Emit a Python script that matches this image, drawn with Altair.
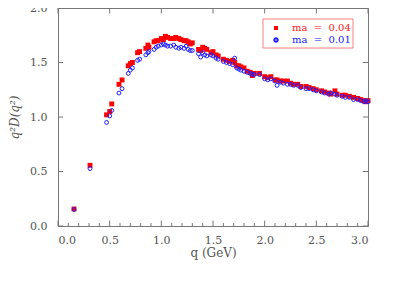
import altair as alt
import pandas as pd

q_vals = [0.155, 0.31, 0.47, 0.50, 0.52, 0.59, 0.62, 0.68, 0.70, 0.72, 0.77, 0.79,
          0.85, 0.87, 0.88, 0.93, 0.95, 0.97, 1.00, 1.02, 1.04, 1.06, 1.09, 1.12,
          1.14, 1.17, 1.19, 1.22, 1.24, 1.26, 1.28, 1.30, 1.36, 1.38, 1.40, 1.42,
          1.44, 1.48, 1.50, 1.53, 1.55, 1.60, 1.63, 1.66, 1.69, 1.71, 1.73, 1.75,
          1.77, 1.80, 1.83, 1.86, 1.88, 1.90, 1.95, 2.00, 2.03, 2.06, 2.10, 2.12,
          2.15, 2.18, 2.22, 2.25, 2.28, 2.32, 2.35, 2.40, 2.43, 2.47, 2.50, 2.55,
          2.58, 2.62, 2.64, 2.68, 2.70, 2.75, 2.78, 2.82, 2.86, 2.90, 2.93, 2.96,
          2.98, 3.00]
red_vals = [0.156, 0.557, 1.02, 1.05, 1.12, 1.30, 1.34, 1.47, 1.49, 1.50, 1.59, 1.60,
            1.63, 1.66, 1.64, 1.69, 1.70, 1.70, 1.72, 1.71, 1.74, 1.73, 1.72, 1.72,
            1.73, 1.72, 1.71, 1.70, 1.70, 1.69, 1.67, 1.68, 1.62, 1.61, 1.64, 1.63,
            1.62, 1.59, 1.60, 1.57, 1.56, 1.53, 1.52, 1.51, 1.52, 1.50, 1.47, 1.47,
            1.46, 1.45, 1.42, 1.41, 1.38, 1.40, 1.40, 1.37, 1.36, 1.37, 1.34, 1.34,
            1.33, 1.33, 1.33, 1.31, 1.30, 1.30, 1.28, 1.28, 1.27, 1.26, 1.25, 1.24,
            1.23, 1.22, 1.21, 1.24, 1.21, 1.20, 1.20, 1.19, 1.18, 1.17, 1.16, 1.15,
            1.14, 1.15]
blue_vals = [0.152, 0.527, 0.95, 1.01, 1.06, 1.22, 1.26, 1.40, 1.43, 1.45, 1.52, 1.53,
             1.57, 1.59, 1.60, 1.62, 1.64, 1.65, 1.66, 1.67, 1.66, 1.65, 1.65, 1.66,
             1.64, 1.63, 1.64, 1.63, 1.65, 1.62, 1.61, 1.61, 1.58, 1.55, 1.59, 1.57,
             1.56, 1.57, 1.56, 1.54, 1.53, 1.51, 1.50, 1.49, 1.48, 1.54, 1.45, 1.44,
             1.43, 1.42, 1.41, 1.40, 1.39, 1.39, 1.39, 1.35, 1.34, 1.35, 1.33, 1.29,
             1.32, 1.31, 1.30, 1.30, 1.29, 1.29, 1.27, 1.26, 1.26, 1.25, 1.24, 1.23,
             1.22, 1.21, 1.22, 1.21, 1.20, 1.19, 1.18, 1.18, 1.16, 1.16, 1.15, 1.14,
             1.15, 1.14]

NB = "\u00a0"
series_labels = [f"ma{NB}{NB}={NB}{NB}0.04", f"ma{NB}{NB}={NB}{NB}0.01"]
x_major = [0.0, 0.5, 1.0, 1.5, 2.0, 2.5, 3.0]
x_minor = [i / 10 for i in range(31) if i % 5 != 0]
y_major = [0.0, 0.5, 1.0, 1.5, 2.0]

FONT = "DejaVu Serif"
GREY = "#555555"
AX = "#777777"

red_df = pd.DataFrame({"q": q_vals, "v": red_vals})
blue_df = pd.DataFrame({"q": q_vals, "v": blue_vals})

xs = alt.Scale(domain=[0, 3], nice=False)
ys = alt.Scale(domain=[0, 2], nice=False)

xaxis = alt.Axis(values=x_major, format=".1f", ticks=False, labelFont=FONT,
                 labelFontSize=11, labelColor=GREY, labelPadding=8,
                 title="q (GeV)", titleFont=FONT, titleFontSize=12,
                 titleFontWeight="normal", titleColor=GREY, titlePadding=2,
                 domainColor=AX, grid=False)
yaxis = alt.Axis(values=y_major, format=".1f", ticks=False, labelFont=FONT,
                 labelFontSize=11, labelColor=GREY, labelPadding=11,
                 title="q²D(q²)", titleFont=FONT, titleFontSize=12,
                 titleFontStyle="italic", titleFontWeight="normal",
                 titleColor=GREY, titlePadding=8, domainColor=AX, grid=False)

red = alt.Chart(red_df).mark_square(color="#ff0000", size=24, opacity=1).encode(
    x=alt.X("q:Q", scale=xs, axis=xaxis), y=alt.Y("v:Q", scale=ys, axis=yaxis))
blue = alt.Chart(blue_df).mark_point(shape="circle", color="#2020ff", size=15,
                                     strokeWidth=1, filled=False, opacity=1).encode(
    x=alt.X("q:Q", scale=xs), y=alt.Y("v:Q", scale=ys))

xmaj = pd.DataFrame({"t": x_major})
xmin = pd.DataFrame({"t": x_minor})
ymaj = pd.DataFrame({"t": y_major})

def xt(df, lo, hi):
    return alt.Chart(df).mark_rule(color=AX, strokeWidth=1).encode(
        x=alt.X("t:Q", scale=xs), y=alt.datum(lo), y2=alt.datum(hi))

def yt(df, lo, hi):
    return alt.Chart(df).mark_rule(color=AX, strokeWidth=1).encode(
        y=alt.Y("t:Q", scale=ys), x=alt.datum(lo), x2=alt.datum(hi))

ticks = [xt(xmaj, 0, 0.05), xt(xmin, 0, 0.027), xt(xmaj, 1.95, 2.0),
         yt(ymaj, 0, 0.05), yt(ymaj, 2.95, 3.0)]

leg_df = pd.DataFrame({"label": series_labels, "c": ["#ff0000", "#2020ff"]})
box = alt.Chart(pd.DataFrame({"a": [1]})).mark_rect(
    fill="white", stroke="#ff8080", strokeWidth=1).encode(
    x=alt.value(205), x2=alt.value(295), y=alt.value(11), y2=alt.value(40))
lt1 = alt.Chart(leg_df.iloc[[0]]).mark_text(font=FONT, fontSize=10, align="left",
                                             baseline="middle", color="#ff2020").encode(
    x=alt.value(234), y=alt.value(20), text="label:N")
lt2 = alt.Chart(leg_df.iloc[[1]]).mark_text(font=FONT, fontSize=10, align="left",
                                             baseline="middle", color="#2020ff").encode(
    x=alt.value(234), y=alt.value(32), text="label:N")
lm1 = alt.Chart(leg_df.iloc[[0]]).mark_square(color="#ff0000", size=16, opacity=1).encode(
    x=alt.value(218), y=alt.value(20))
lm2 = alt.Chart(leg_df.iloc[[1]]).mark_point(shape="circle", color="#2020ff", size=12,
                                             filled=False, opacity=1).encode(
    x=alt.value(218), y=alt.value(32))

chart = alt.layer(red, blue, *ticks, box, lm1, lm2, lt1, lt2).properties(
    width=310, height=218, autosize="none",
    padding={"left": 50, "top": 0, "right": 35, "bottom": 56},
).configure_view(stroke=AX, strokeWidth=1)

chart.save("out.html", embed_options={"renderer": "svg", "actions": False})
